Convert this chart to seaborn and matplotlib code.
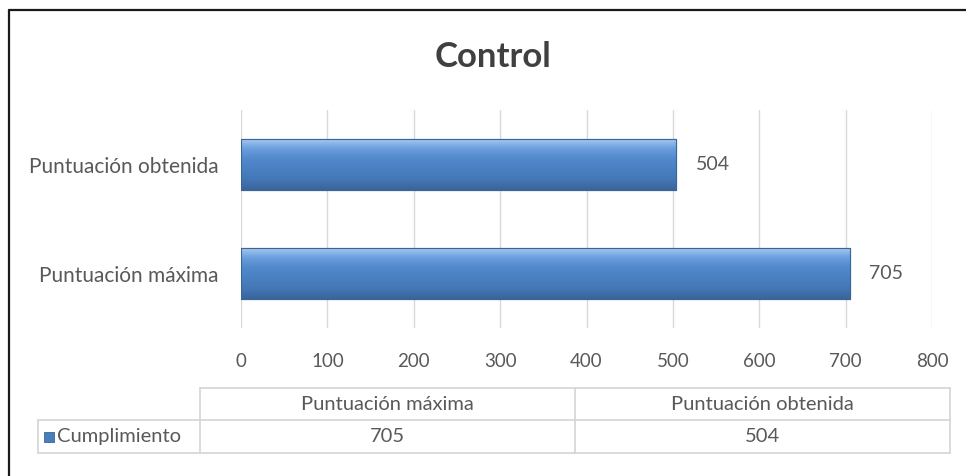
import numpy as np
import pandas as pd
import matplotlib.pyplot as plt
import seaborn as sns
from matplotlib.lines import Line2D
from matplotlib.patches import Rectangle
from matplotlib.colors import LinearSegmentedColormap

# ===== DATA =====
categories = ["Puntuación obtenida", "Puntuación máxima"]
values = [504, 705]
table_cols = ["Puntuación máxima", "Puntuación obtenida"]
table_vals = [705, 504]
series_name = "Cumplimiento"
x_ticks = [0, 100, 200, 300, 400, 500, 600, 700, 800]

BAR_COLOR = "#4A7EBB"
TEXT_COLOR = "#595959"

sns.set_theme(style="white")
plt.rcParams["font.family"] = ["Lato", "DejaVu Sans"]

W, H = 966, 476
fig = plt.figure(figsize=(W / 100, H / 100), dpi=100)
ax = fig.add_axes([241 / W, (H - 328) / H, (932 - 241) / W, (328 - 110) / H])

df = pd.DataFrame({"cat": categories, "val": values})
sns.barplot(data=df, x="val", y="cat", color=BAR_COLOR, width=0.47,
            edgecolor="#3B6597", linewidth=0.8, saturation=1, ax=ax, zorder=3)

# gradient shading on bars (light top edge, medium body)
grad = np.linspace(0, 1, 64).reshape(-1, 1)
cmap = LinearSegmentedColormap.from_list(
    "bar", ["#A9CBF2", "#6A9EDD", "#5189CC", "#4A80C2", "#4477B5", "#3A659B"])
for p in ax.patches:
    x0, y0 = p.get_x(), p.get_y()
    w, h = p.get_width(), p.get_height()
    im = ax.imshow(grad, cmap=cmap, aspect="auto", extent=[x0, x0 + w, y0 + h, y0],
                   zorder=3.5, interpolation="bicubic")
    im.set_clip_path(p)
    ax.add_patch(Rectangle((x0, y0), w, h, fill=False, edgecolor="#3B6597",
                           linewidth=0.8, zorder=4))

ax.set_xlim(0, 800)
ax.set_ylim(1.5, -0.5)
ax.set_xticks(x_ticks)
ax.set_xticklabels([str(t) for t in x_ticks])
ax.xaxis.grid(True, color="#D9D9D9", linewidth=1.0, zorder=0)
ax.set_axisbelow(True)
for s in ax.spines.values():
    s.set_visible(False)
ax.set_xlabel("")
ax.set_ylabel("")
ax.tick_params(axis="x", colors=TEXT_COLOR, labelsize=13.5, length=0, pad=18)
ax.tick_params(axis="y", colors=TEXT_COLOR, labelsize=15, length=0, pad=16)

for i, v in enumerate(values):
    ax.annotate(str(v), xy=(v, i), xytext=(14, 0), textcoords="offset points",
                va="center", ha="left", fontsize=14, color=TEXT_COLOR)

fig.text(493 / W, 1 - 57 / H, "Control", ha="center", va="center",
         fontsize=25, fontweight="bold", color="#404040")

# ===== data table =====
def fx(px):
    return px / W

def fy(py):
    return 1 - py / H

grid_c = "#D4D4D4"
top, mid, bot = 388, 420, 453
xl, x1, x2, xr = 38, 200, 575, 950
segs = [
    ((x1, xr), (top, top)),
    ((xl, xr), (mid, mid)),
    ((xl, xr), (bot, bot)),
    ((xl, xl), (mid, bot)),
    ((x1, x1), (top, bot)),
    ((x2, x2), (top, bot)),
    ((xr, xr), (top, bot)),
]
for xs, ys in segs:
    fig.add_artist(Line2D([fx(xs[0]), fx(xs[1])], [fy(ys[0]), fy(ys[1])],
                          color=grid_c, linewidth=1.2))

col_centers = [(x1 + x2) / 2, (x2 + xr) / 2]
for cx, name, val in zip(col_centers, table_cols, table_vals):
    fig.text(fx(cx), fy((top + mid) / 2), name, ha="center", va="center",
             fontsize=14.5, color=TEXT_COLOR)
    fig.text(fx(cx), fy((mid + bot) / 2), str(val), ha="center", va="center",
             fontsize=14.5, color=TEXT_COLOR)

fig.add_artist(Rectangle((fx(44), fy(442)), 10 / W, 10 / H, facecolor=BAR_COLOR,
                         edgecolor="#3B6597", linewidth=0.6))
fig.text(fx(57), fy((mid + bot) / 2), series_name, ha="left", va="center",
         fontsize=14.5, color=TEXT_COLOR)

# outer frame (left and top edges visible)
fig.add_artist(Line2D([fx(9), fx(9)], [fy(10), 0], color="#1A1A1A", linewidth=1.6))
fig.add_artist(Line2D([fx(9), 1], [fy(10), fy(10)], color="#1A1A1A", linewidth=1.6))

fig.savefig("out.png", dpi=100)
